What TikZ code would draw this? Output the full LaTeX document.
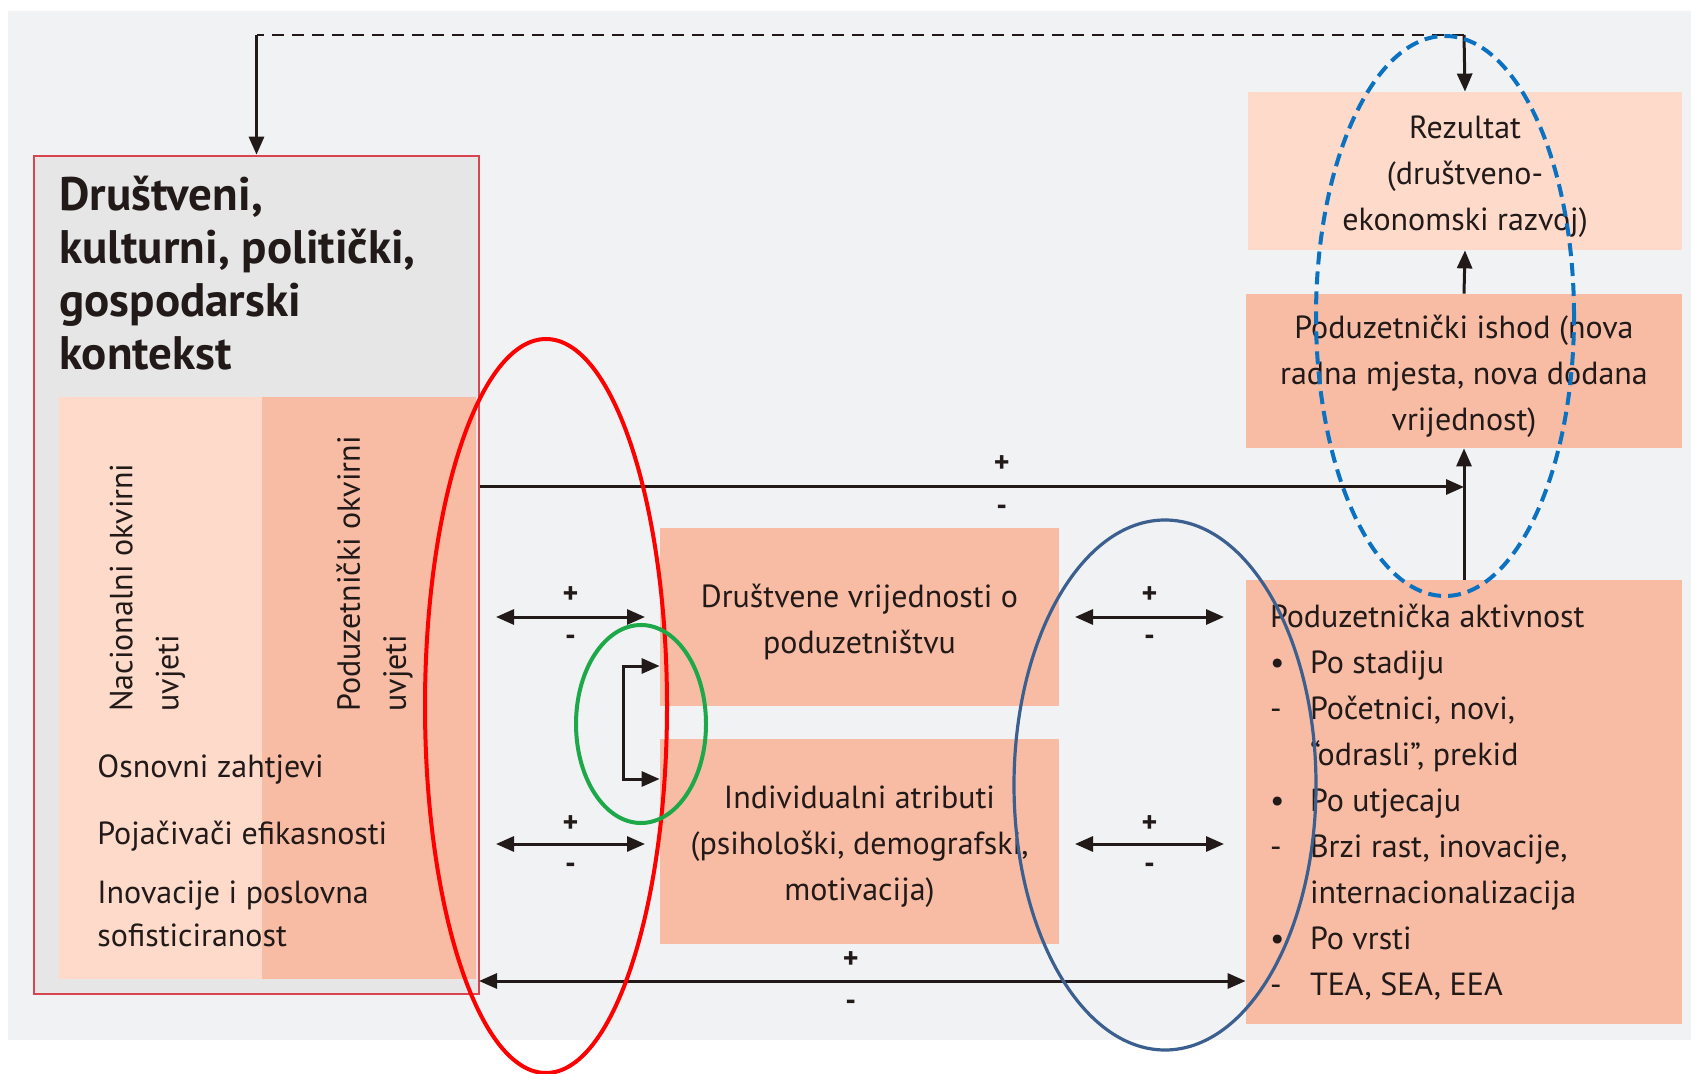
\documentclass[tikz,border=0pt]{standalone}
\usepackage{fontspec}
\setmainfont{PT Sans}
\usetikzlibrary{arrows.meta}

\definecolor{bggray}{HTML}{F1F2F4}
\definecolor{ctxgray}{HTML}{E6E6E7}
\definecolor{ctxred}{HTML}{D9454F}
\definecolor{palefill}{HTML}{FDDACA}
\definecolor{salmon}{HTML}{F8BCA4}
\definecolor{ink}{HTML}{221A19}
\definecolor{ovalgreen}{HTML}{1DA84A}
\definecolor{ovalnavy}{HTML}{3B5F8E}
\definecolor{ovalblue}{HTML}{0B72C1}

\newcommand{\up}{\rule{0pt}{17pt}}
\newcommand{\mk}[1]{\makebox[20pt][l]{#1}}

\begin{document}
\begin{tikzpicture}[x=0.5pt, y=-0.5pt,
    body/.style={font=\fontsize{16}{23}\selectfont, text=ink, inner sep=0pt},
    box/.style={body, fill=salmon, align=center},
    arr/.style={draw=ink, line width=1.5pt, -{Triangle[length=9pt,width=7.5pt]}},
    darr/.style={arr, {Triangle[length=9pt,width=7.5pt]}-{Triangle[length=9pt,width=7.5pt]}},
    sign/.style={font=\bfseries\fontsize{15}{15}\selectfont, text=ink, inner sep=0pt}]
  \useasboundingbox (0,0) rectangle (1691,1074);
  \clip (0,0) rectangle (1691,1074);
  \fill[bggray] (8,11) rectangle (1691,1040);

  % context block
  \node[draw=ctxred, line width=1.3pt, fill=ctxgray, minimum width=222.5pt, minimum height=419pt, inner sep=0pt] (ctx) at (256.5,575) {};
  \node[fill=palefill, minimum width=101.5pt, minimum height=291pt, inner sep=0pt] (nat) at (160.5,688) {};
  \node[fill=salmon, minimum width=107pt, minimum height=291pt, inner sep=0pt] (ent) at (369,688) {};
  \node[anchor=north west, align=left, text=ink, inner sep=0pt, font=\bfseries\fontsize{23.5}{26.5}\selectfont] (ttl) at (59,176)
    {Društveni,\\kulturni, politički,\\gospodarski\\kontekst};
  \node[body, rotate=90, anchor=west, align=left] (natl) at (147.5,712) {Nacionalni okvirni\\uvjeti};
  \node[body, rotate=90, anchor=west, align=left] (entl) at (374.5,712) {Poduzetnički okvirni\\uvjeti};
  \node[body, anchor=west] (osn) at (97,769) {Osnovni zahtjevi};
  \node[body, anchor=west] (poj) at (97,836) {Pojačivači efikasnosti};
  \node[body, anchor=west, align=left, font=\fontsize{16}{21.5}\selectfont] (ino) at (97,914) {Inovacije i poslovna\\sofisticiranost};

  % middle
  \node[box, minimum width=199.5pt, minimum height=89pt] (vrij) at (859.5,617) {\up Društvene vrijednosti o\\poduzetništvu};
  \node[box, minimum width=199.5pt, minimum height=102.5pt] (atr) at (859.5,841.5) {\up Individualni atributi\\(psihološki, demografski,\\motivacija)};

  % right column
  \node[box, fill=palefill, minimum width=217pt, minimum height=79pt] (rez) at (1465,171) {\up Rezultat\\(društveno-\\ekonomski razvoj)};
  \node[box, minimum width=218pt, minimum height=77pt] (ish) at (1464,371) {\up Poduzetnički ishod (nova\\radna mjesta, nova dodana\\vrijednost)};
  \node[box, minimum width=218pt, minimum height=222pt] (akt) at (1464,802) {};
  \node[body, anchor=north west, align=left] (akttxt) at ([xshift=12pt,yshift=-12pt]akt.north west)
    {Poduzetnička aktivnost\\
     \mk{•}Po stadiju\\
     \mk{-}Početnici, novi,\\
     \mk{}“odrasli”, prekid\\
     \mk{•}Po utjecaju\\
     \mk{-}Brzi rast, inovacije,\\
     \mk{}internacionalizacija\\
     \mk{•}Po vrsti\\
     \mk{-}TEA, SEA, EEA};

  % arrows
  \coordinate (hub) at (1464,487);
  \coordinate (fbR) at (1464,35);
  \coordinate (fbL) at (256.5,35);
  \draw[draw=ink, line width=1.4pt, dash pattern=on 6pt off 4pt] (fbR) -- (fbL);
  \draw[arr] (fbL) -- (ctx.north);
  \draw[arr] (fbR) -- (rez.north);
  \draw[arr] (ish.north) -- (rez.south);
  \draw[arr] (akt.north) -- (ish.south);
  \draw[arr] (ctx.east |- hub) -- (hub) node[sign, pos=0.53, yshift=11.5pt] {+} node[sign, pos=0.53, yshift=-11.5pt] {-};

  \coordinate (svL) at (496,617);  \coordinate (svR) at (645,617);
  \coordinate (iaL) at (496,844);  \coordinate (iaR) at (645,844);
  \coordinate (svL2) at (1075,617); \coordinate (svR2) at (1224,617);
  \coordinate (iaL2) at (1075,844); \coordinate (iaR2) at (1224,844);
  \draw[darr] (svL) -- (svR) node[sign, midway, yshift=11pt] {+} node[sign, midway, yshift=-11.5pt] {-};
  \draw[darr] (iaL) -- (iaR) node[sign, midway, yshift=10pt] {+} node[sign, midway, yshift=-12pt] {-};
  \draw[darr] (svL2) -- (svR2) node[sign, midway, yshift=11pt] {+} node[sign, midway, yshift=-11.5pt] {-};
  \draw[darr] (iaL2) -- (iaR2) node[sign, midway, yshift=10pt] {+} node[sign, midway, yshift=-12pt] {-};

  \coordinate (bot) at (479,981);
  \draw[darr] (bot) -- (akt.west |- bot) node[sign, pos=0.485, yshift=10.5pt] {+} node[sign, pos=0.485, yshift=-12pt] {-};

  \coordinate (brT) at (623,666);
  \coordinate (brB) at (623,779);
  \draw[darr] (vrij.west |- brT) -- (brT) -- (brB) -- (atr.west |- brB);

  % ovals
  \draw[red, line width=2pt] (546,706) ellipse [x radius=60.5pt, y radius=183.5pt];
  \draw[ovalgreen, line width=2pt] (641,724) ellipse [x radius=32.5pt, y radius=49.5pt];
  \draw[ovalnavy, line width=1.6pt] (1165,785) ellipse [x radius=75.5pt, y radius=132.5pt];
  \draw[ovalblue, line width=2pt, dash pattern=on 6.5pt off 3.5pt] (1445,316) ellipse [x radius=64.5pt, y radius=140pt];
\end{tikzpicture}
\end{document}
